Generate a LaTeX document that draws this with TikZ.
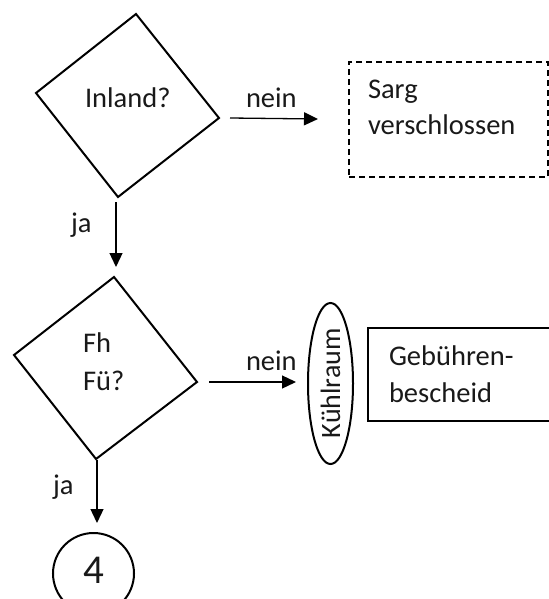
\documentclass[tikz,border=0pt]{standalone}
\usepackage{fontspec}
\setmainfont{Carlito}
\usetikzlibrary{arrows.meta,shapes.geometric}
\begin{document}
\begin{tikzpicture}[x=1bp,y=-1bp,
  txt/.style={inner sep=0pt,outer sep=0pt,font=\fontsize{28.5bp}{33bp}\selectfont,text=black!90},
  shp/.style={draw=black,line width=2bp,line join=miter},
  arr/.style={draw=black,line width=1.3bp,-{Triangle[length=14bp,width=13bp]}}]
\useasboundingbox (0,0) rectangle (549,599);
\clip (0,0) rectangle (549,599);
% diamond 1
\coordinate (d1t) at (136,14);
\coordinate (d1r) at (219,118);
\coordinate (d1b) at (118,197);
\coordinate (d1l) at (36,93);
\draw[shp] (d1t) -- (d1r) -- (d1b) -- (d1l) -- cycle;
\node[txt,anchor=base west] (inland) at (85,108) {Inland?};
% diamond 2
\coordinate (d2t) at (114,277);
\coordinate (d2r) at (197,382);
\coordinate (d2b) at (96,459);
\coordinate (d2l) at (14,355);
\draw[shp] (d2t) -- (d2r) -- (d2b) -- (d2l) -- cycle;
\node[txt,anchor=base west] (fh) at (83,352) {Fh};
\node[txt,anchor=base west] (fu) at (83,390) {Fü?};
% dashed box
\node[draw=black,line width=1.3bp,dash pattern=on 6bp off 4bp,inner sep=0pt,minimum width=199bp,minimum height=115bp] (sarg) at (448.5,119.5) {};
\node[txt,anchor=base west] (sargt) at (368,99) {Sarg};
\node[txt,anchor=base west] (versch) at (368,135) {verschlossen};
% Gebuehren box (open to the right edge)
\node[draw=black,line width=1.5bp,inner sep=0pt,minimum width=190bp,minimum height=93bp] (geb) at (463,374.5) {};
\node[txt,anchor=base west] (gebt) at (389,365) {Gebühren-};
\node[txt,anchor=base west] (besch) at (389,402) {bescheid};
% Kuehlraum ellipse
\node[shp,ellipse,inner sep=0pt,minimum width=45bp,minimum height=161bp] (kr) at (330.5,383.5) {};
\node[txt,anchor=base west,rotate=90,font=\fontsize{28bp}{33bp}\selectfont] (krt) at (340,438) {Kühlraum};
% circle 4
\node[shp,circle,inner sep=0pt,minimum size=81bp] (c4) at (93.5,573.5) {};
\node[inner sep=0pt,anchor=base,font=\fontsize{41bp}{44bp}\selectfont,text=black!90] (four) at (93.5,583) {4};
% arrows
\coordinate (a1s) at (230,118);
\coordinate (a1e) at (318,119);
\draw[arr] (a1s) -- (a1e);
\node[txt,anchor=base west] (nein1) at (246,108) {nein};
\coordinate (a2s) at (116,202);
\coordinate (a2e) at (116,267);
\draw[arr] (a2s) -- (a2e);
\node[txt,anchor=base west] (ja1) at (71,232) {ja};
\coordinate (a3s) at (209,382);
\coordinate (a3e) at (296,382);
\draw[arr] (a3s) -- (a3e);
\node[txt,anchor=base west] (nein2) at (246,370) {nein};
\coordinate (a4s) at (97,460);
\coordinate (a4e) at (97,523);
\draw[arr] (a4s) -- (a4e);
\node[txt,anchor=base west] (ja2) at (53,494) {ja};
\end{tikzpicture}
\end{document}
